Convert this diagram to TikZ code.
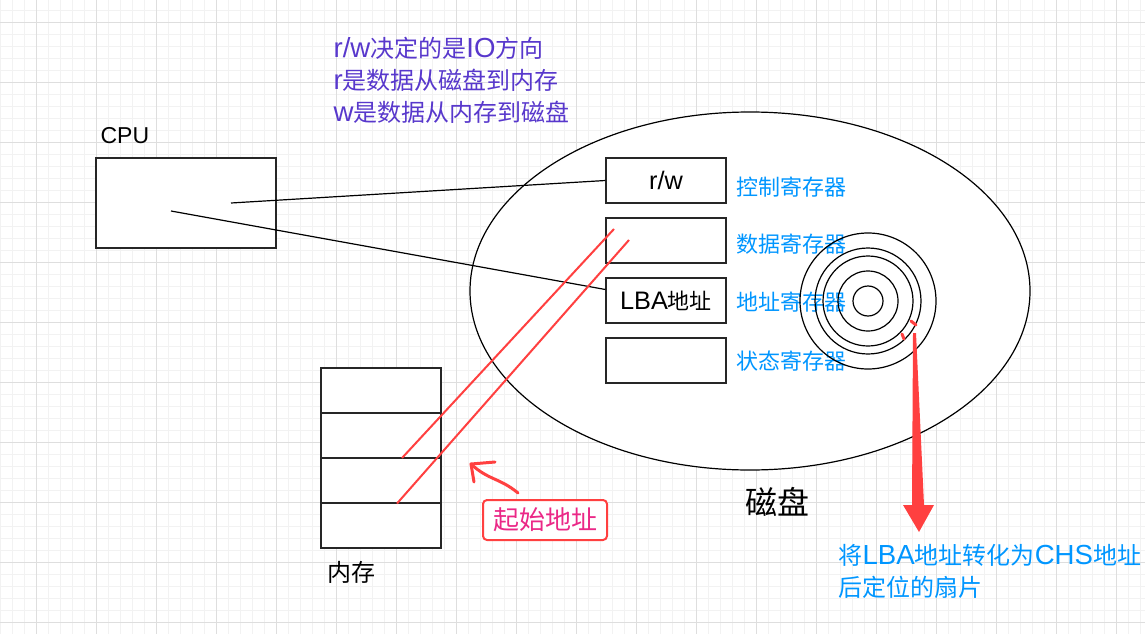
\documentclass[tikz,border=0pt]{standalone}
\usepackage{fontspec}
\setmainfont{Noto Sans CJK SC}
\newfontfamily\latin[Scale=1.15]{Liberation Sans}
\usetikzlibrary{calc,positioning,arrows.meta,shapes.geometric}
\definecolor{gridmaj}{RGB}{222,222,222}
\definecolor{gridmin}{RGB}{242,242,242}
\definecolor{txtpurple}{RGB}{88,56,204}
\definecolor{txtblue}{RGB}{0,150,255}
\definecolor{txtpink}{RGB}{235,40,135}
\definecolor{redline}{RGB}{255,64,64}
\newcommand\fsz[2]{\fontsize{#1}{#2}\selectfont}

\begin{document}
\begin{tikzpicture}[x=1pt,y=-1pt,line width=1.2pt,
  regbox/.style={draw=black!85,fill=white,minimum width=120pt,minimum height=45pt,inner sep=0pt},
  reglabel/.style={anchor=west,text=txtblue,inner sep=0pt,font=\fsz{22}{26}},
  note/.style={align=left,anchor=north west,inner sep=0pt}]
  \useasboundingbox (0,0) rectangle (1145,634);
  % grid
  \foreach \x in {0,12,...,1145} \draw[gridmin,line width=0.7pt] (\x,0)--(\x,634);
  \foreach \y in {10,22,...,634} \draw[gridmin,line width=0.7pt] (0,\y)--(1145,\y);
  \foreach \x in {36,96,...,1145} \draw[gridmaj,line width=0.8pt] (\x,0)--(\x,634);
  \foreach \y in {22,82,...,634} \draw[gridmaj,line width=0.8pt] (0,\y)--(1145,\y);
  % disk
  \node[ellipse,draw=black,fill=white,minimum width=560pt,minimum height=358pt,inner sep=0pt] (disk) at (750,291) {};
  \node[font=\fsz{32}{36}] (diskname) at (777,502) {磁盘};
  % registers
  \node[regbox,font=\fsz{22}{26}] (rw) at (666,180.5) {\latin r/w};
  \node[regbox] (data) at (666,240.5) {};
  \node[regbox,font=\fsz{22}{26}] (lba) at (666,300.5) {{\latin LBA}地址};
  \node[regbox] (stat) at (666,360.5) {};
  \node[reglabel] (lrw) at (736,187) {控制寄存器};
  \node[reglabel] (ldata) at (736,244) {数据寄存器};
  \node[reglabel] (llba) at (736,302) {地址寄存器};
  \node[reglabel] (lstat) at (736,361) {状态寄存器};
  % tracks
  \coordinate (ctr) at (868,301);
  \foreach \r in {15,30,45,53,68} \draw (ctr) circle[radius=\r pt];
  \draw[redline,line width=3pt,line cap=round] (911,321)--(916,325);
  \draw[redline,line width=3pt,line cap=round] (902,334)--(904,339);
  % CPU
  \node[draw=black!85,fill=white,minimum width=180pt,minimum height=90pt,inner sep=0pt] (cpu) at (186,203) {};
  \node[font=\fsz{20}{24}\latin,anchor=west,inner sep=0pt] (cpuname) at (100,136) {CPU};
  \coordinate (c1) at (231,203);
  \coordinate (c2) at (171,211);
  \draw (c1)--(rw.west);
  \draw (c2)--([yshift=11pt]lba.west);
  % memory
  \foreach \i/\y in {0/390.5,1/435.5,2/480.5,3/525.5}
    \node[regbox] (m\i) at (381,\y) {};
  \node[font=\fsz{24}{28}] (memname) at (351,572) {内存};
  % data path
  \coordinate (d1) at (614,229);
  \coordinate (d2) at (629,240);
  \draw[redline,line width=2pt] (d1)--(402,458);
  \draw[redline,line width=2pt] (d2)--(397,503.5);
  % start address
  \node[draw=redline,fill=white,rounded corners=4pt,line width=2pt,text=txtpink,font=\fsz{26}{30},minimum width=124pt,minimum height=40pt,inner sep=0pt] (start) at (545,520) {起始地址};
  \coordinate (tail) at (518,493);
  \coordinate (tip) at (471,464);
  \draw[redline,line width=3pt,line cap=round,line join=round] (tail) .. controls (500,478) and (488,480) .. (tip);
  \draw[redline,line width=3pt,line cap=round,line join=round] (495,462)--(tip)--(474,482);
  % CHS arrow
  \fill[redline] (913,333)--(916,333)--(924,505)--(934,505)--(919,532)--(903,505)--(912,505)--cycle;
  % notes
  \node[note,text=txtpurple,font=\fsz{24}{32}] (io) at (333,37) {{\latin r/w}决定的是{\latin IO}方向\\{\latin r}是数据从磁盘到内存\\{\latin w}是数据从内存到磁盘};
  \node[note,text=txtblue,font=\fsz{24}{32}] (chs) at (838,544) {将{\latin LBA}地址转化为{\latin CHS}地址\\后定位的扇片};
\end{tikzpicture}
\end{document}
